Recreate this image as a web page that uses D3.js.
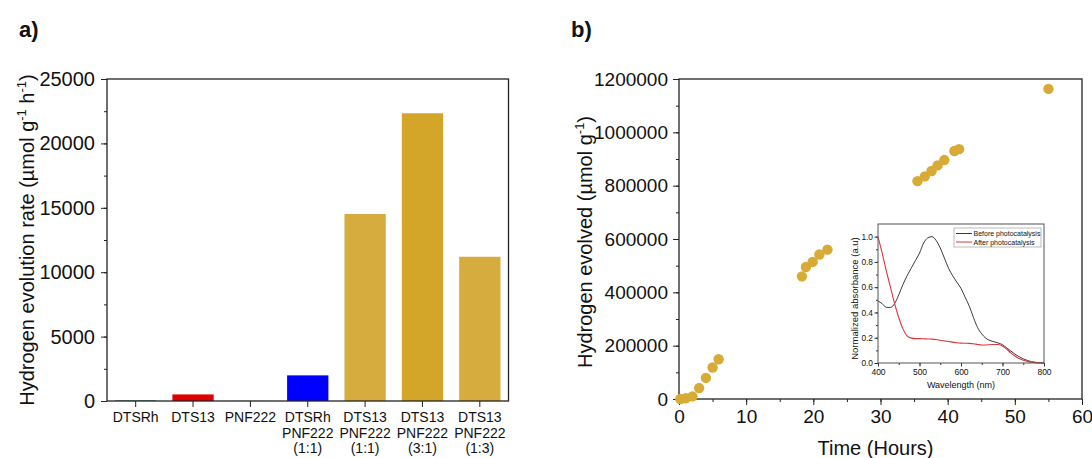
<!DOCTYPE html>
<html>
<head>
<meta charset="utf-8">
<script src="https://cdn.jsdelivr.net/npm/d3@7"></script>
<style>
  body { margin: 0; background: #fff; }
  svg text { font-family: "Liberation Sans", Arial, sans-serif; fill: #111; }
</style>
</head>
<body>
<div id="chart"></div>
<script>
// panel a: rates
const rateLabels = [
    ["DTSRh"], ["DTS13"], ["PNF222"],
    ["DTSRh", "PNF222", "(1:1)"],
    ["DTS13", "PNF222", "(1:1)"],
    ["DTS13", "PNF222", "(3:1)"],
    ["DTS13", "PNF222", "(1:3)"]
];
const rateValues = [60, 510, 10, 1990, 14520, 22340, 11200];
const rateColors = ["#4f8a78", "#e00000", "#888888", "#0000ff", "#d6ac3e", "#d3a62a", "#d6ac3e"];
const rateTicks = [0, 5000, 10000, 15000, 20000, 25000];

// panel b: hydrogen evolved over time
const hours = [0.2, 1, 2, 3, 4, 5, 5.9, 18.3, 18.9, 19.9, 20.9, 22.1, 35.5, 36.6, 37.6, 38.5, 39.5, 41, 41.7, 55];
const evolved = [0, 3000, 10000, 41000, 79000, 118000, 149000, 460000, 495000, 514000, 542000, 560000,
                 817000, 835000, 855000, 876000, 896000, 930000, 937000, 1163000];
const timeTicks = [0, 10, 20, 30, 40, 50, 60];
const evolvedTicks = [0, 200000, 400000, 600000, 800000, 1000000, 1200000];

// inset: absorbance spectra
const wavelengths = d3.range(400, 801, 10);
const beforeAbs = [0.49, 0.47, 0.44, 0.44, 0.47, 0.54, 0.62, 0.69, 0.75, 0.81, 0.87, 0.95, 0.99, 1.0, 0.97, 0.91,
                   0.83, 0.75, 0.69, 0.64, 0.59, 0.52, 0.45, 0.36, 0.28, 0.23, 0.195, 0.178, 0.168, 0.158, 0.145,
                   0.12, 0.095, 0.07, 0.05, 0.033, 0.02, 0.011, 0.005, 0.002, 0];
const afterAbs = [1.0, 0.87, 0.73, 0.6, 0.47, 0.36, 0.27, 0.215, 0.197, 0.193, 0.193, 0.192, 0.19, 0.189, 0.186,
                  0.18, 0.175, 0.17, 0.165, 0.16, 0.157, 0.156, 0.155, 0.152, 0.147, 0.143, 0.143, 0.145, 0.147,
                  0.146, 0.135, 0.11, 0.08, 0.055, 0.035, 0.022, 0.013, 0.007, 0.003, 0.001, 0];
const absTicks = [0, 0.2, 0.4, 0.6, 0.8, 1.0];
const waveTicks = [400, 500, 600, 700, 800];

const svg = d3.select("#chart").append("svg")
    .attr("width", 1092).attr("height", 458);
svg.append("rect").attr("width", 1092).attr("height", 458).attr("fill", "#fff");

// helper: frame box
function frame(x0, x1, y0, y1, w) {
    svg.append("rect")
        .attr("x", x0).attr("y", y0)
        .attr("width", x1 - x0).attr("height", y1 - y0)
        .attr("fill", "none").attr("stroke", "#222").attr("stroke-width", w);
}

// 面板標籤
svg.append("text").attr("x", 19).attr("y", 37).style("font-size", "22px").style("font-weight", "bold").text("a)");
svg.append("text").attr("x", 571).attr("y", 37).style("font-size", "22px").style("font-weight", "bold").text("b)");

/************************ panel a ************************/
const ax = {left: 107, right: 508.5, top: 79, bottom: 401};
const xA = d3.scaleBand()
    .domain(d3.range(rateValues.length))
    .range([ax.left, ax.right])
    .paddingInner(0.28).paddingOuter(0.14);
const yA = d3.scaleLinear().domain([0, 25000]).range([ax.bottom, ax.top]);

svg.selectAll(".bar")
    .data(rateValues)
    .enter()
    .append("rect")
    .attr("class", "bar")
    .attr("x", (d, i) => xA(i))
    .attr("width", xA.bandwidth())
    .attr("y", d => yA(d))
    .attr("height", d => yA(0) - yA(d))
    .attr("fill", (d, i) => rateColors[i]);

// y axis (major + minor)
svg.append("g")
    .attr("transform", `translate(${ax.left},0)`)
    .call(d3.axisLeft(yA).tickValues(d3.range(0, 25001, 2500)).tickSize(3).tickFormat(""))
    .call(g => g.select(".domain").remove());
svg.append("g")
    .attr("transform", `translate(${ax.left},0)`)
    .call(d3.axisLeft(yA).tickValues(rateTicks).tickSize(6).tickPadding(6).tickFormat(d3.format("d")))
    .call(g => g.select(".domain").remove())
    .call(g => g.selectAll("text").style("font-size", "20px"));

// x axis
svg.append("g")
    .attr("transform", `translate(0,${ax.bottom})`)
    .call(d3.axisBottom(xA).tickSize(6).tickFormat(""))
    .call(g => g.select(".domain").remove());
svg.selectAll(".xlabA")
    .data(rateLabels)
    .enter()
    .append("text")
    .attr("class", "xlabA")
    .attr("text-anchor", "middle")
    .attr("x", (d, i) => xA(i) + xA.bandwidth() / 2)
    .attr("y", 422)
    .style("font-size", "14px")
    .each(function(d) {
        d3.select(this).selectAll("tspan")
            .data(d).enter().append("tspan")
            .attr("x", d3.select(this).attr("x"))
            .attr("dy", (t, j) => j === 0 ? 0 : 15.5)
            .text(t => t);
    });
svg.selectAll("g.tick line").attr("stroke", "#222");
frame(ax.left, ax.right, ax.top, ax.bottom, 1.3);

// y 軸標題
const yTitleA = svg.append("text")
    .attr("transform", `translate(34,${(ax.top + ax.bottom) / 2}) rotate(-90)`)
    .attr("text-anchor", "middle")
    .style("font-size", "20px");
yTitleA.append("tspan").text("Hydrogen evolution rate (µmol g");
yTitleA.append("tspan").attr("dy", -8).style("font-size", "13px").text("-1");
yTitleA.append("tspan").attr("dy", 8).text(" h");
yTitleA.append("tspan").attr("dy", -8).style("font-size", "13px").text("-1");
yTitleA.append("tspan").attr("dy", 8).text(")");

/************************ panel b ************************/
const bx = {left: 679, right: 1082, top: 79, bottom: 399};
const xB = d3.scaleLinear().domain([0, 60]).range([bx.left, bx.right]);
const yB = d3.scaleLinear().domain([0, 1200000]).range([bx.bottom, bx.top]);

svg.append("g")
    .attr("transform", `translate(${bx.left},0)`)
    .call(d3.axisLeft(yB).tickValues(d3.range(0, 1200001, 100000)).tickSize(3).tickFormat(""))
    .call(g => g.select(".domain").remove());
svg.append("g")
    .attr("transform", `translate(${bx.left},0)`)
    .call(d3.axisLeft(yB).tickValues(evolvedTicks).tickSize(6).tickPadding(5).tickFormat(d3.format("d")))
    .call(g => g.select(".domain").remove())
    .call(g => g.selectAll("text").style("font-size", "19px"));
svg.append("g")
    .attr("transform", `translate(0,${bx.bottom})`)
    .call(d3.axisBottom(xB).tickValues(d3.range(0, 61, 5)).tickSize(3).tickFormat(""))
    .call(g => g.select(".domain").remove());
svg.append("g")
    .attr("transform", `translate(0,${bx.bottom})`)
    .call(d3.axisBottom(xB).tickValues(timeTicks).tickSize(6).tickPadding(5))
    .call(g => g.select(".domain").remove())
    .call(g => g.selectAll("text").style("font-size", "19px"));
svg.selectAll("g.tick line").attr("stroke", "#222");
frame(bx.left, bx.right, bx.top, bx.bottom, 1.3);

// scatter
svg.selectAll(".dot")
    .data(hours)
    .enter()
    .append("circle")
    .attr("class", "dot")
    .attr("cx", d => xB(d))
    .attr("cy", (d, i) => yB(evolved[i]))
    .attr("r", 5.2)
    .attr("fill", "#d8aa36");

svg.append("text")
    .attr("x", (bx.left + bx.right) / 2 - 5)
    .attr("y", 455)
    .attr("text-anchor", "middle")
    .style("font-size", "20px")
    .text("Time (Hours)");
const yTitleB = svg.append("text")
    .attr("transform", `translate(592,${(bx.top + bx.bottom) / 2 + 3}) rotate(-90)`)
    .attr("text-anchor", "middle")
    .style("font-size", "20px");
yTitleB.append("tspan").text("Hydrogen evolved (µmol g");
yTitleB.append("tspan").attr("dy", -8).style("font-size", "13px").text("-1");
yTitleB.append("tspan").attr("dy", 8).text(")");

/************************ inset ************************/
const ix = {left: 878, right: 1044, top: 224, bottom: 363};
const xI = d3.scaleLinear().domain([400, 800]).range([ix.left, ix.right]);
const yI = d3.scaleLinear().domain([0, 1.1]).range([ix.bottom, ix.top]);

svg.append("rect")
    .attr("x", ix.left).attr("y", ix.top)
    .attr("width", ix.right - ix.left).attr("height", ix.bottom - ix.top)
    .attr("fill", "#fff");

svg.append("g").attr("class", "inset")
    .attr("transform", `translate(${ix.left},0)`)
    .call(d3.axisLeft(yI).tickValues(d3.range(0, 1.01, 0.1)).tickSize(2).tickFormat(""))
    .call(g => g.select(".domain").remove());
svg.append("g").attr("class", "inset")
    .attr("transform", `translate(${ix.left},0)`)
    .call(d3.axisLeft(yI).tickValues(absTicks).tickSize(3.5).tickPadding(1.5).tickFormat(d3.format(".1f")))
    .call(g => g.select(".domain").remove())
    .call(g => g.selectAll("text").style("font-size", "8.3px"));
svg.append("g").attr("class", "inset")
    .attr("transform", `translate(0,${ix.bottom})`)
    .call(d3.axisBottom(xI).tickValues(d3.range(400, 801, 50)).tickSize(2).tickFormat(""))
    .call(g => g.select(".domain").remove());
svg.append("g").attr("class", "inset")
    .attr("transform", `translate(0,${ix.bottom})`)
    .call(d3.axisBottom(xI).tickValues(waveTicks).tickSize(3.5).tickPadding(2))
    .call(g => g.select(".domain").remove())
    .call(g => g.selectAll("text").style("font-size", "8.5px"));
svg.selectAll("g.inset .tick line").attr("stroke", "#333");

const line = d3.line()
    .x((d, i) => xI(wavelengths[i]))
    .y(d => yI(d))
    .curve(d3.curveMonotoneX);
svg.append("path").datum(beforeAbs).attr("d", line)
    .attr("fill", "none").attr("stroke", "#3a3a3a").attr("stroke-width", 1);
svg.append("path").datum(afterAbs).attr("d", line)
    .attr("fill", "none").attr("stroke", "#d9393e").attr("stroke-width", 1.1);

svg.append("rect")
    .attr("x", ix.left).attr("y", ix.top)
    .attr("width", ix.right - ix.left).attr("height", ix.bottom - ix.top)
    .attr("fill", "none").attr("stroke", "#555").attr("stroke-width", 1);

// legend
svg.append("rect")
    .attr("x", 954).attr("y", 228).attr("width", 87).attr("height", 19)
    .attr("fill", "#fff").attr("stroke", "#aaa").attr("stroke-width", 0.8);
[["Before photocatalysis", "#3a3a3a"], ["After photocatalysis", "#d9393e"]].forEach((s, k) => {
    const yy = 233.5 + k * 8.5;
    svg.append("line").attr("x1", 956).attr("x2", 972).attr("y1", yy).attr("y2", yy)
        .attr("stroke", s[1]).attr("stroke-width", 1);
    svg.append("text").attr("x", 973.5).attr("y", yy + 2.5).style("font-size", "7px").text(s[0]);
});

svg.append("text")
    .attr("x", (ix.left + ix.right) / 2)
    .attr("y", 388)
    .attr("text-anchor", "middle")
    .style("font-size", "9px")
    .text("Wavelength (nm)");
svg.append("text")
    .attr("transform", `translate(858,${(ix.top + ix.bottom) / 2 + 5}) rotate(-90)`)
    .attr("text-anchor", "middle")
    .style("font-size", "9.5px")
    .text("Normalized absorbance (a.u)");
</script>
</body>
</html>
